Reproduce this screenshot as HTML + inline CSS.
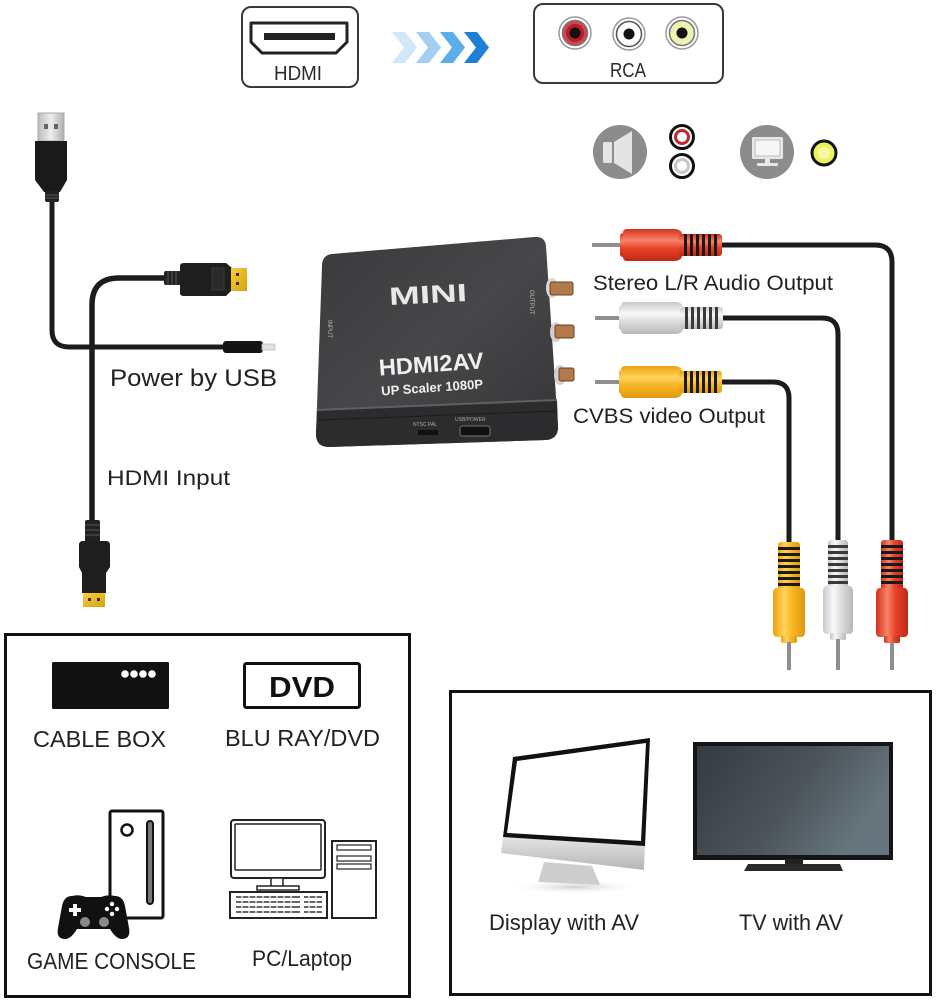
<!DOCTYPE html>
<html><head><meta charset="utf-8"><style>html,body{margin:0;padding:0;background:#fff}svg{display:block}text{font-family:"Liberation Sans",Arial,sans-serif}</style></head>
<body>
<svg xmlns="http://www.w3.org/2000/svg" width="938" height="1000" viewBox="0 0 938 1000">
<defs>
 <linearGradient id="rH" x1="0" y1="0" x2="0" y2="1"><stop offset="0" stop-color="#d5301c"/><stop offset=".35" stop-color="#f6836a"/><stop offset=".6" stop-color="#ea432b"/><stop offset="1" stop-color="#c02814"/></linearGradient>
 <linearGradient id="wH" x1="0" y1="0" x2="0" y2="1"><stop offset="0" stop-color="#c8c8c8"/><stop offset=".35" stop-color="#f8f8f8"/><stop offset=".6" stop-color="#dedede"/><stop offset="1" stop-color="#b8b8b8"/></linearGradient>
 <linearGradient id="yH" x1="0" y1="0" x2="0" y2="1"><stop offset="0" stop-color="#eea010"/><stop offset=".35" stop-color="#fdd45a"/><stop offset=".6" stop-color="#f7b625"/><stop offset="1" stop-color="#e09a0c"/></linearGradient>
 <linearGradient id="rV" x1="0" y1="0" x2="1" y2="0"><stop offset="0" stop-color="#d5301c"/><stop offset=".35" stop-color="#f6836a"/><stop offset=".6" stop-color="#ea432b"/><stop offset="1" stop-color="#c02814"/></linearGradient>
 <linearGradient id="wV" x1="0" y1="0" x2="1" y2="0"><stop offset="0" stop-color="#c8c8c8"/><stop offset=".35" stop-color="#f8f8f8"/><stop offset=".6" stop-color="#dedede"/><stop offset="1" stop-color="#b8b8b8"/></linearGradient>
 <linearGradient id="yV" x1="0" y1="0" x2="1" y2="0"><stop offset="0" stop-color="#eea010"/><stop offset=".35" stop-color="#fdd45a"/><stop offset=".6" stop-color="#f7b625"/><stop offset="1" stop-color="#e09a0c"/></linearGradient>
 <linearGradient id="metal" x1="0" y1="0" x2="1" y2="0"><stop offset="0" stop-color="#bdbdbd"/><stop offset=".5" stop-color="#ededed"/><stop offset="1" stop-color="#b0b0b0"/></linearGradient>
 <linearGradient id="gold" x1="0" y1="0" x2="1" y2="1"><stop offset="0" stop-color="#f5cf3c"/><stop offset="1" stop-color="#d9a010"/></linearGradient>
 <linearGradient id="dev" x1="0" y1="0" x2="1" y2="1"><stop offset="0" stop-color="#3a3a3c"/><stop offset=".5" stop-color="#47474a"/><stop offset="1" stop-color="#353537"/></linearGradient>
 <linearGradient id="tvs" x1="0" y1="0" x2="1" y2="0.4"><stop offset="0" stop-color="#353b3e"/><stop offset=".6" stop-color="#4c555a"/><stop offset="1" stop-color="#66757d"/></linearGradient>
 <linearGradient id="chin" x1="0" y1="0" x2="0" y2="1"><stop offset="0" stop-color="#e6e6e6"/><stop offset="1" stop-color="#b5b5b5"/></linearGradient>
 <radialGradient id="shadow"><stop offset="0" stop-color="#cfcfcf"/><stop offset="1" stop-color="#fff" stop-opacity="0"/></radialGradient>
</defs>
<rect width="938" height="1000" fill="#fff"/>

<!-- HDMI box -->
<rect x="242" y="7" width="116" height="80" rx="9" fill="#fff" stroke="#3a3a3a" stroke-width="2"/>
<path d="M251 23 H347 V42 L336 53 H262 L251 42 Z" fill="#fff" stroke="#222" stroke-width="3" stroke-linejoin="round"/>
<rect x="264" y="33" width="71" height="7" fill="#222"/>
<text x="298" y="80" font-size="20" text-anchor="middle" fill="#2a2a2a" textLength="48" lengthAdjust="spacingAndGlyphs">HDMI</text>

<!-- chevrons -->
<polygon points="392,32 405,32 417,47.5 405,63 392,63 404,47.5" fill="#d2e8f8"/>
<polygon points="416,32 429,32 441,47.5 429,63 416,63 428,47.5" fill="#a3d0f2"/>
<polygon points="440,32 453,32 465,47.5 453,63 440,63 452,47.5" fill="#5aaeea"/>
<polygon points="464,32 477,32 489,47.5 477,63 464,63 476,47.5" fill="#1d7fd6"/>

<!-- RCA box -->
<rect x="534" y="4" width="189" height="79" rx="9" fill="#fff" stroke="#3a3a3a" stroke-width="2"/>
<g>
 <circle cx="575" cy="33" r="16" fill="#fff" stroke="#9a9a9a" stroke-width="1.5"/>
 <circle cx="575" cy="33" r="12.5" fill="#d8424e" stroke="#777" stroke-width="1.5"/>
 <circle cx="575" cy="33" r="9" fill="#b0202c"/>
 <circle cx="575" cy="33" r="5.5" fill="#111"/>
 <circle cx="629" cy="34" r="16" fill="#fff" stroke="#9a9a9a" stroke-width="1.5"/>
 <circle cx="629" cy="34" r="12.5" fill="#fff" stroke="#555" stroke-width="1.5"/>
 <circle cx="629" cy="34" r="5.5" fill="#111"/>
 <circle cx="682" cy="33" r="16" fill="#fff" stroke="#9a9a9a" stroke-width="1.5"/>
 <circle cx="682" cy="33" r="12.5" fill="#f0f2b0" stroke="#777" stroke-width="1.5"/>
 <circle cx="682" cy="33" r="5.5" fill="#111"/>
</g>
<text x="628" y="77" font-size="20" text-anchor="middle" fill="#2a2a2a" textLength="36" lengthAdjust="spacingAndGlyphs">RCA</text>

<!-- speaker icon -->
<circle cx="620" cy="152" r="27" fill="#8c8c8c"/>
<rect x="603" y="142" width="9" height="21" rx="1.5" fill="#e4e4e4"/>
<polygon points="614,142 632,131 632,174 614,163" fill="#e4e4e4"/>
<circle cx="682" cy="137" r="11.5" fill="#fff" stroke="#111" stroke-width="3"/>
<circle cx="682" cy="137" r="6.5" fill="#fff" stroke="#c0282e" stroke-width="3"/>
<circle cx="682" cy="166" r="11.5" fill="#fff" stroke="#111" stroke-width="3"/>
<circle cx="682" cy="166" r="6.5" fill="#fff" stroke="#c8c8c8" stroke-width="3"/>
<!-- monitor icon -->
<circle cx="767" cy="152" r="27" fill="#8c8c8c"/>
<rect x="752" y="137" width="31" height="22" rx="1.5" fill="#e8e8e8"/>
<rect x="755" y="140" width="25" height="16" fill="#f6f6f6" stroke="#bbb" stroke-width="1"/>
<rect x="765" y="159" width="5" height="5" fill="#e8e8e8"/>
<rect x="757" y="163" width="21" height="3" rx="1" fill="#e8e8e8"/>
<circle cx="824" cy="153" r="12" fill="#eef25a" stroke="#111" stroke-width="3"/>
<circle cx="824" cy="153" r="6" fill="#f6f9a8"/>

<!-- LEFT CABLES -->
<path d="M52 200 V330 Q52 347 69 347 H226" fill="none" stroke="#1c1c1c" stroke-width="5"/>
<path d="M92 524 V305 Q92 278 119 278 H168" fill="none" stroke="#1c1c1c" stroke-width="5.5"/>
<!-- barrel plug -->
<rect x="223" y="341" width="40" height="12" rx="3" fill="#141414"/>
<rect x="262" y="344" width="13" height="6" fill="#e0e0e0" stroke="#bbb" stroke-width="0.8"/>
<!-- USB -->
<rect x="38" y="113" width="26" height="28" fill="url(#metal)" stroke="#a8a8a8" stroke-width="1"/>
<rect x="44" y="124" width="4" height="5" fill="#666"/>
<rect x="54" y="124" width="4" height="5" fill="#666"/>
<path d="M35 141 H67 V180 L60 192 H44 L35 180 Z" fill="#1a1a1a"/>
<rect x="45" y="191" width="14" height="11" rx="2" fill="#222"/>
<line x1="45" y1="195" x2="59" y2="195" stroke="#555" stroke-width="1"/>
<line x1="45" y1="198" x2="59" y2="198" stroke="#555" stroke-width="1"/>
<!-- HDMI top connector -->
<rect x="164" y="271" width="17" height="14" rx="2" fill="#222"/>
<line x1="168" y1="271" x2="168" y2="285" stroke="#555"/><line x1="172" y1="271" x2="172" y2="285" stroke="#555"/><line x1="176" y1="271" x2="176" y2="285" stroke="#555"/>
<path d="M180 266 Q180 263 184 263 H226 L232 268 V290 L226 296 H184 Q180 296 180 293 Z" fill="#1e1e1e"/>
<rect x="212" y="268" width="12" height="22" fill="#2a2a2a" stroke="#3a3a3a"/>
<rect x="231" y="268" width="16" height="23" fill="url(#gold)"/>
<rect x="236" y="273" width="3" height="3" fill="#333"/><rect x="236" y="282" width="3" height="3" fill="#333"/>
<!-- HDMI bottom connector -->
<rect x="85" y="520" width="15" height="23" rx="2" fill="#222"/>
<line x1="85" y1="525" x2="100" y2="525" stroke="#555"/><line x1="85" y1="530" x2="100" y2="530" stroke="#555"/><line x1="85" y1="535" x2="100" y2="535" stroke="#555"/>
<path d="M79 545 Q79 541 83 541 H106 Q110 541 110 545 V567 L106 573 V593 H82 V573 L79 567 Z" fill="#1e1e1e"/>
<rect x="83" y="593" width="22" height="14" fill="url(#gold)"/>
<rect x="88" y="598" width="3" height="3" fill="#333"/><rect x="97" y="598" width="3" height="3" fill="#333"/>

<text x="110" y="386" font-size="24" fill="#222" textLength="167" lengthAdjust="spacingAndGlyphs">Power by USB</text>
<text x="107" y="485" font-size="21" fill="#222" textLength="123" lengthAdjust="spacingAndGlyphs">HDMI Input</text>

<!-- DEVICE -->
<path d="M332 254 Q322 255 322 266 L316 434 Q316 447 329 447 L546 440 Q558 439 558 427 L546 246 Q545 236 534 237 Z" fill="url(#dev)"/>
<path d="M317 410 L557 400 L558 427 Q558 439 546 440 L329 447 Q316 447 316 434 Z" fill="#2c2c2e"/>
<path d="M317 410 L557 400" stroke="#606063" stroke-width="2" fill="none"/>
<path d="M318 420 L557 411" stroke="#1c1c1d" stroke-width="1" fill="none"/>
<!-- device side jacks -->
<ellipse cx="552" cy="288" rx="6" ry="10" fill="#d9d9d9"/>
<rect x="550" y="282" width="23" height="13" rx="2" fill="#b27a48" stroke="#6a4020" stroke-width="1"/>
<ellipse cx="556" cy="332" rx="6" ry="10" fill="#d0d0d0"/>
<rect x="555" y="325" width="19" height="13" rx="2" fill="#b27a48" stroke="#6a4020" stroke-width="1"/>
<ellipse cx="560" cy="375" rx="6" ry="10" fill="#d0d0d0"/>
<rect x="559" y="368" width="15" height="13" rx="2" fill="#b27a48" stroke="#6a4020" stroke-width="1"/>
<text x="428" y="303" font-size="25" font-weight="bold" fill="#e8e8e8" text-anchor="middle" font-family="DejaVu Sans, sans-serif" transform="rotate(-3 428 294)" textLength="78" lengthAdjust="spacingAndGlyphs">MINI</text>
<text x="431" y="372" font-size="23" font-weight="bold" fill="#f0f0f0" text-anchor="middle" transform="rotate(-4 431 362)" textLength="105" lengthAdjust="spacingAndGlyphs">HDMI2AV</text>
<text x="432" y="392" font-size="13" font-weight="bold" fill="#f0f0f0" text-anchor="middle" transform="rotate(-4 432 386)" textLength="102" lengthAdjust="spacingAndGlyphs">UP Scaler 1080P</text>
<text x="0" y="0" font-size="6" fill="#bdbdbd" transform="translate(328 320) rotate(90)">INPUT</text>
<text x="0" y="0" font-size="6" fill="#bdbdbd" transform="translate(530 290) rotate(90)">OUTPUT</text>
<text x="413" y="426" font-size="5" fill="#aaa">NTSC  PAL</text>
<text x="455" y="421" font-size="5" fill="#aaa">USB/POWER</text>
<rect x="418" y="430" width="20" height="5" fill="#111"/>
<rect x="460" y="426" width="30" height="10" rx="2.5" fill="#111" stroke="#777" stroke-width="1"/>

<!-- RIGHT CABLES -->
<path d="M722 245 H875 Q892 245 892 262 V542" fill="none" stroke="#1c1c1c" stroke-width="5"/>
<path d="M723 318 H822 Q838 318 838 334 V542" fill="none" stroke="#1c1c1c" stroke-width="5"/>
<path d="M722 382 H773 Q789 382 789 398 V544" fill="none" stroke="#1c1c1c" stroke-width="5"/>

<!-- horizontal plugs -->
<g transform="translate(722 245)">
 <rect x="-130" y="-2" width="34" height="4" fill="#8e8e8e"/>
 <rect x="-102" y="-12" width="10" height="24" rx="3" fill="url(#rH)"/>
 <path d="M-95 -16 H-48 Q-42 -16 -40 -12 V12 Q-42 16 -48 16 H-95 Q-99 16 -99 12 V-12 Q-99 -16 -95 -16 Z" fill="url(#rH)"/>
 <rect x="-43" y="-11" width="43" height="22" rx="3" fill="url(#rH)"/>
 <g fill="#1a1a1a"><rect x="-38" y="-11" width="3" height="22"/><rect x="-32" y="-11" width="3" height="22"/><rect x="-26" y="-11" width="3" height="22"/><rect x="-20" y="-11" width="3" height="22"/><rect x="-14" y="-11" width="3" height="22"/><rect x="-8" y="-11" width="3" height="22"/></g>
</g>
<g transform="translate(723 318)">
 <rect x="-128" y="-2" width="32" height="4" fill="#8e8e8e"/>
 <rect x="-104" y="-12" width="10" height="24" rx="3" fill="url(#wH)"/>
 <path d="M-98 -16 H-48 Q-42 -16 -40 -12 V12 Q-42 16 -48 16 H-98 Q-102 16 -102 12 V-12 Q-102 -16 -98 -16 Z" fill="url(#wH)"/>
 <rect x="-43" y="-11" width="43" height="22" rx="3" fill="url(#wH)"/>
 <g fill="#3a3a3a"><rect x="-38" y="-11" width="3" height="22"/><rect x="-32" y="-11" width="3" height="22"/><rect x="-26" y="-11" width="3" height="22"/><rect x="-20" y="-11" width="3" height="22"/><rect x="-14" y="-11" width="3" height="22"/><rect x="-8" y="-11" width="3" height="22"/></g>
</g>
<g transform="translate(722 382)">
 <rect x="-127" y="-2" width="32" height="4" fill="#8e8e8e"/>
 <rect x="-103" y="-12" width="10" height="24" rx="3" fill="url(#yH)"/>
 <path d="M-97 -16 H-48 Q-42 -16 -40 -12 V12 Q-42 16 -48 16 H-97 Q-101 16 -101 12 V-12 Q-101 -16 -97 -16 Z" fill="url(#yH)"/>
 <rect x="-43" y="-11" width="43" height="22" rx="3" fill="url(#yH)"/>
 <g fill="#1a1a1a"><rect x="-38" y="-11" width="3" height="22"/><rect x="-32" y="-11" width="3" height="22"/><rect x="-26" y="-11" width="3" height="22"/><rect x="-20" y="-11" width="3" height="22"/><rect x="-14" y="-11" width="3" height="22"/><rect x="-8" y="-11" width="3" height="22"/></g>
</g>

<!-- vertical plugs -->
<g transform="translate(892 540)">
 <rect x="-11" y="0" width="22" height="50" rx="3" fill="url(#rV)"/>
 <g fill="#1a1a1a"><rect x="-11" y="5" width="22" height="3"/><rect x="-11" y="11" width="22" height="3"/><rect x="-11" y="17" width="22" height="3"/><rect x="-11" y="23" width="22" height="3"/><rect x="-11" y="29" width="22" height="3"/><rect x="-11" y="35" width="22" height="3"/><rect x="-11" y="41" width="22" height="3"/></g>
 <path d="M-16 54 Q-16 48 -12 48 H12 Q16 48 16 54 V92 Q16 97 12 97 H-12 Q-16 97 -16 92 Z" fill="url(#rV)"/>
 <rect x="-8" y="96" width="16" height="7" rx="2" fill="url(#rV)"/>
 <rect x="-2" y="102" width="4" height="28" fill="#8e8e8e"/>
</g>
<g transform="translate(838 540)">
 <rect x="-10" y="0" width="20" height="48" rx="3" fill="url(#wV)"/>
 <g fill="#3a3a3a"><rect x="-10" y="5" width="20" height="3"/><rect x="-10" y="11" width="20" height="3"/><rect x="-10" y="17" width="20" height="3"/><rect x="-10" y="23" width="20" height="3"/><rect x="-10" y="29" width="20" height="3"/><rect x="-10" y="35" width="20" height="3"/><rect x="-10" y="41" width="20" height="3"/></g>
 <path d="M-15 52 Q-15 46 -11 46 H11 Q15 46 15 52 V89 Q15 94 11 94 H-11 Q-15 94 -15 89 Z" fill="url(#wV)"/>
 <rect x="-8" y="93" width="16" height="7" rx="2" fill="url(#wV)"/>
 <rect x="-2" y="99" width="4" height="31" fill="#8e8e8e"/>
</g>
<g transform="translate(789 542)">
 <rect x="-11" y="0" width="22" height="48" rx="3" fill="url(#yV)"/>
 <g fill="#1a1a1a"><rect x="-11" y="5" width="22" height="3"/><rect x="-11" y="11" width="22" height="3"/><rect x="-11" y="17" width="22" height="3"/><rect x="-11" y="23" width="22" height="3"/><rect x="-11" y="29" width="22" height="3"/><rect x="-11" y="35" width="22" height="3"/><rect x="-11" y="41" width="22" height="3"/></g>
 <path d="M-16 52 Q-16 46 -12 46 H12 Q16 46 16 52 V90 Q16 95 12 95 H-12 Q-16 95 -16 90 Z" fill="url(#yV)"/>
 <rect x="-8" y="94" width="16" height="7" rx="2" fill="url(#yV)"/>
 <rect x="-2" y="100" width="4" height="28" fill="#8e8e8e"/>
</g>

<text x="593" y="290" font-size="21" fill="#222" textLength="240" lengthAdjust="spacingAndGlyphs">Stereo L/R Audio Output</text>
<text x="573" y="423" font-size="21" fill="#222" textLength="192" lengthAdjust="spacingAndGlyphs">CVBS video Output</text>

<!-- BOTTOM LEFT BOX -->
<rect x="5.5" y="634.5" width="404" height="362" fill="none" stroke="#111" stroke-width="3"/>
<rect x="52" y="662" width="117" height="47" rx="1.5" fill="#111"/>
<circle cx="125" cy="674" r="3.8" fill="#fff"/><circle cx="134" cy="674" r="3.8" fill="#fff"/><circle cx="143" cy="674" r="3.8" fill="#fff"/><circle cx="152" cy="674" r="3.8" fill="#fff"/>
<rect x="244.5" y="663.5" width="115" height="44" rx="2" fill="#fff" stroke="#111" stroke-width="3"/>
<text x="302" y="697" font-size="29" font-weight="bold" fill="#111" text-anchor="middle" textLength="66" lengthAdjust="spacingAndGlyphs">DVD</text>
<text x="33" y="747" font-size="23" fill="#222" textLength="133" lengthAdjust="spacingAndGlyphs">CABLE BOX</text>
<text x="225" y="746" font-size="23" fill="#222" textLength="155" lengthAdjust="spacingAndGlyphs">BLU RAY/DVD</text>
<!-- console -->
<rect x="110" y="811" width="53" height="107" rx="2" fill="#fff" stroke="#111" stroke-width="3"/>
<circle cx="127" cy="830" r="5.5" fill="#fff" stroke="#111" stroke-width="2.5"/>
<rect x="147" y="821" width="6" height="83" rx="3" fill="#777" stroke="#111" stroke-width="2"/>
<path d="M72 896 Q64 896 62 906 L58 928 Q56 939 65 939 Q71 939 77 929 L110 929 Q116 939 122 939 Q131 939 129 928 L125 906 Q123 896 115 896 Q108 894 101 897 L86 897 Q79 894 72 896 Z" fill="#111"/>
<rect x="69" y="908" width="12" height="4" fill="#fff"/><rect x="73" y="904" width="4" height="12" fill="#fff"/>
<circle cx="112" cy="904" r="2.2" fill="#fff"/><circle cx="112" cy="914" r="2.2" fill="#fff"/><circle cx="107" cy="909" r="2.2" fill="#fff"/><circle cx="117" cy="909" r="2.2" fill="#fff"/>
<circle cx="85" cy="922" r="5" fill="#8a8a8a"/><circle cx="104" cy="922" r="5" fill="#8a8a8a"/>
<text x="27" y="969" font-size="23" fill="#222" textLength="169" lengthAdjust="spacingAndGlyphs">GAME CONSOLE</text>
<!-- PC -->
<rect x="231" y="820" width="94" height="58" rx="3" fill="#fff" stroke="#222" stroke-width="2"/>
<rect x="235" y="824" width="86" height="46" rx="1" fill="#fff" stroke="#222" stroke-width="1.5"/>
<rect x="271" y="878" width="12" height="9" fill="#fff" stroke="#222" stroke-width="1.5"/>
<rect x="257" y="886" width="42" height="4" fill="#fff" stroke="#222" stroke-width="1.5"/>
<rect x="230" y="892" width="97" height="26" fill="#fff" stroke="#222" stroke-width="2"/>
<g stroke="#333" stroke-width="1.6" fill="none">
 <path d="M236 897 H300 M236 902 H300 M236 907 H300 M236 912 H300"/>
 <path d="M304 897 H322 M304 902 H322 M304 907 H322 M304 912 H322"/>
</g>
<g stroke="#fff" stroke-width="1.2"><path d="M242 895 V915 M249 895 V915 M256 895 V915 M263 895 V915 M270 895 V915 M277 895 V915 M284 895 V915 M291 895 V915 M309 895 V915 M316 895 V915"/></g>
<rect x="332" y="841" width="44" height="77" fill="#fff" stroke="#222" stroke-width="2"/>
<rect x="337" y="845" width="34" height="5" fill="#fff" stroke="#222" stroke-width="1.2"/>
<rect x="337" y="856" width="34" height="5" fill="#fff" stroke="#222" stroke-width="1.2"/>
<rect x="337" y="864" width="34" height="5" fill="#fff" stroke="#222" stroke-width="1.2"/>
<text x="252" y="966" font-size="22" fill="#222" textLength="100" lengthAdjust="spacingAndGlyphs">PC/Laptop</text>

<!-- BOTTOM RIGHT BOX -->
<rect x="450.5" y="691.5" width="480" height="303" fill="none" stroke="#111" stroke-width="3"/>
<!-- display -->
<ellipse cx="575" cy="887" rx="70" ry="7" fill="url(#shadow)"/>
<polygon points="544,862 592,866 600,885 538,882" fill="#cdcdcd"/>
<polygon points="503,836 645,845 644,870 501,853" fill="url(#chin)"/>
<polygon points="513,757 650,738 645,846 503,837" fill="#111"/>
<polygon points="517,761 646,743 641,841 507,833" fill="#fff"/>
<!-- TV -->
<rect x="693" y="742" width="200" height="118" fill="#151515"/>
<rect x="697" y="746" width="192" height="109" fill="url(#tvs)"/>
<rect x="785" y="859" width="18" height="6" fill="#222"/>
<polygon points="748,864 840,864 843,871 744,871" fill="#2a2a2a"/>
<text x="489" y="930" font-size="22" fill="#222" textLength="150" lengthAdjust="spacingAndGlyphs">Display with  AV</text>
<text x="739" y="930" font-size="22" fill="#222" textLength="104" lengthAdjust="spacingAndGlyphs">TV with AV</text>
</svg>
</body></html>
